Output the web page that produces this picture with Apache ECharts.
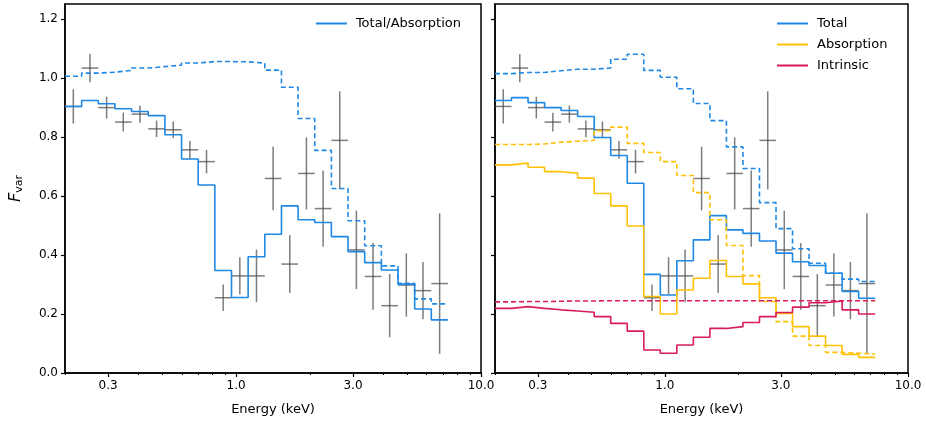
<!DOCTYPE html>
<html>
<head>
<meta charset="utf-8">
<script src="https://cdn.jsdelivr.net/npm/echarts@6/dist/echarts.min.js"></script>
<style>html,body{margin:0;padding:0;background:#fff}#c{width:926px;height:424px}</style>
</head>
<body>
<div id="c"></div>
<script>
// bins are log-uniform, 0.068 dex wide, starting at 0.2 keV (values in log10 E)
const binStart = Math.log10(0.2)
const binWidth = 0.068
const nBins = 23

const leftTotal = [0.903, 0.923, 0.912, 0.895, 0.886, 0.872, 0.807, 0.725, 0.637, 0.347, 0.256, 0.394, 0.470, 0.566, 0.519, 0.510, 0.462, 0.411, 0.374, 0.349, 0.301, 0.217, 0.180]
const leftTotalDash = [1.005, 1.016, 1.019, 1.025, 1.033, 1.038, 1.043, 1.050, 1.055, 1.055, 1.054, 1.050, 1.026, 0.968, 0.862, 0.754, 0.625, 0.516, 0.431, 0.363, 0.304, 0.251, 0.234]

const rightTotal = [0.923, 0.933, 0.916, 0.899, 0.889, 0.869, 0.798, 0.737, 0.643, 0.334, 0.264, 0.380, 0.451, 0.533, 0.485, 0.473, 0.447, 0.406, 0.377, 0.364, 0.338, 0.276, 0.253]
const rightTotalDash = [1.014, 1.018, 1.018, 1.024, 1.029, 1.029, 1.033, 1.063, 1.080, 1.025, 1.002, 0.963, 0.913, 0.855, 0.766, 0.693, 0.577, 0.489, 0.421, 0.372, 0.338, 0.318, 0.310]
const absorb = [0.705, 0.711, 0.697, 0.682, 0.677, 0.660, 0.608, 0.566, 0.498, 0.259, 0.200, 0.281, 0.321, 0.381, 0.327, 0.302, 0.255, 0.202, 0.157, 0.125, 0.093, 0.063, 0.053]
const absorbDash = [0.774, 0.774, 0.776, 0.782, 0.785, 0.788, 0.821, 0.833, 0.778, 0.747, 0.716, 0.669, 0.611, 0.519, 0.432, 0.330, 0.242, 0.174, 0.125, 0.093, 0.070, 0.067, 0.064]
const intrinsic = [0.219, 0.225, 0.219, 0.214, 0.210, 0.206, 0.191, 0.168, 0.142, 0.078, 0.067, 0.095, 0.121, 0.151, 0.157, 0.171, 0.191, 0.205, 0.223, 0.238, 0.244, 0.214, 0.200]
const intrinsicDash = [0.241, 0.242, 0.242, 0.243, 0.244, 0.244, 0.245, 0.245, 0.245, 0.245, 0.245, 0.245, 0.245, 0.245, 0.245, 0.245, 0.245, 0.245, 0.245, 0.245, 0.245, 0.245, 0.245]

const obsVal = [0.903, 1.033, 0.899, 0.850, 0.877, 0.827, 0.824, 0.756, 0.716, 0.255, 0.329, 0.329, 0.659, 0.369, 0.676, 0.557, 0.788, 0.417, 0.327, 0.228, 0.298, 0.279, 0.303]
const obsErr = [0.058, 0.048, 0.037, 0.032, 0.029, 0.028, 0.028, 0.030, 0.040, 0.045, 0.063, 0.089, 0.108, 0.098, 0.122, 0.129, 0.166, 0.133, 0.113, 0.107, 0.107, 0.097, 0.238]

const majorTicks = [0.3, 1.0, 3.0, 10.0]
const minorTicks = [0.2, 0.4, 0.5, 0.6, 0.7, 0.8, 0.9, 2, 4, 5, 6, 7, 8, 9]
const yTicks = [0, 0.2, 0.4, 0.6, 0.8, 1.0, 1.2]

const BLUE = '#1E88E5', YELLOW = '#FFC107', PINK = '#D81B60'
const font = 'DejaVu Sans'

function stepData(vals) {
  const d = vals.map((v, k) => [binStart + k * binWidth, v])
  d.push([binStart + nBins * binWidth, vals[vals.length - 1]])
  return d
}

function stepSeries(name, vals, color, dashed, idx) {
  return {
    name: name, type: 'line', step: 'end', data: stepData(vals),
    xAxisIndex: idx * 2, yAxisIndex: idx, symbol: 'none', silent: true,
    lineStyle: { color: color, width: 1.6, type: dashed ? [5, 3] : 'solid' },
    itemStyle: { color: color }
  }
}

function errSeries(idx) {
  const data = obsVal.map((v, k) => {
    const lo = binStart + k * binWidth
    return [lo + binWidth / 2, v, lo, lo + binWidth, v - obsErr[k], v + obsErr[k]]
  })
  return {
    type: 'custom', xAxisIndex: idx * 2, yAxisIndex: idx, data: data, silent: true, z: 1,
    renderItem: (params, api) => {
      const c = api.coord([api.value(0), api.value(1)])
      const l = api.coord([api.value(2), api.value(1)])
      const r = api.coord([api.value(3), api.value(1)])
      const b = api.coord([api.value(0), api.value(4)])
      const t = api.coord([api.value(0), api.value(5)])
      const st = { stroke: 'rgba(70,70,70,0.7)', lineWidth: 1.5 }
      return {
        type: 'group', children: [
          { type: 'line', shape: { x1: l[0], y1: c[1], x2: r[0], y2: c[1] }, style: st },
          { type: 'line', shape: { x1: c[0], y1: b[1], x2: c[0], y2: t[1] }, style: st }
        ]
      }
    }
  }
}

const grids = [
  { left: 65, top: 4, width: 416, height: 369, show: true, borderColor: '#000', borderWidth: 1.5 },
  { left: 495, top: 4, width: 413, height: 369, show: true, borderColor: '#000', borderWidth: 1.5 }
]

const xAxes = [], yAxes = []
for (let i = 0; i < 2; i++) {
  xAxes.push({
    type: 'value', gridIndex: i, min: binStart, max: 1, position: 'bottom',
    name: 'Energy (keV)', nameLocation: 'middle', nameGap: 30,
    nameTextStyle: { fontFamily: font, fontSize: 13, color: '#000' },
    splitLine: { show: false },
    axisLine: { onZero: false, lineStyle: { color: '#000', width: 1.5 } },
    axisTick: { length: 4, lineStyle: { color: '#000', width: 1.2 }, customValues: majorTicks.map(Math.log10) },
    axisLabel: { fontFamily: font, fontSize: 12, color: '#000', margin: 7,
      customValues: majorTicks.map(Math.log10),
      formatter: v => Math.pow(10, v).toFixed(1) }
  })
  xAxes.push({
    type: 'value', gridIndex: i, min: binStart, max: 1, position: 'bottom',
    splitLine: { show: false }, axisLine: { show: false, onZero: false },
    axisTick: { length: 2, lineStyle: { color: '#000', width: 1 }, customValues: minorTicks.map(Math.log10) },
    axisLabel: { show: false }
  })
  yAxes.push({
    type: 'value', gridIndex: i, min: 0, max: 1.25, position: 'left',
    name: i === 0 ? '{i|F}{s|var}' : '', nameLocation: 'middle', nameGap: 40, nameRotate: 90,
    nameTextStyle: { rich: {
      i: { fontFamily: font, fontSize: 16, fontStyle: 'italic', color: '#000' },
      s: { fontFamily: font, fontSize: 11, color: '#000', padding: [8, 0, 0, 0] }
    } },
    splitLine: { show: false },
    axisLine: { onZero: false, lineStyle: { color: '#000', width: 1.5 } },
    axisTick: { length: 4, lineStyle: { color: '#000', width: 1.2 }, customValues: yTicks },
    axisLabel: { show: i === 0, fontFamily: font, fontSize: 12, color: '#000', margin: 7,
      customValues: yTicks, formatter: v => v.toFixed(1) }
  })
}

const chart = echarts.init(document.getElementById('c'))
chart.setOption({
  animation: false,
  grid: grids,
  xAxis: xAxes,
  yAxis: yAxes,
  legend: [
    { data: ['Total/Absorption'], right: 926 - 466, top: 12, orient: 'vertical',
      icon: 'rect', itemWidth: 31, itemHeight: 2, itemGap: 10, selectedMode: false,
      textStyle: { fontFamily: font, fontSize: 13, color: '#000', padding: [0, 0, 0, 4] } },
    { data: ['Total', 'Absorption', 'Intrinsic'], left: 772, top: 12, orient: 'vertical',
      icon: 'rect', itemWidth: 31, itemHeight: 2, itemGap: 8, selectedMode: false,
      textStyle: { fontFamily: font, fontSize: 13, color: '#000', padding: [0, 0, 0, 4] } }
  ],
  series: [
    errSeries(0),
    stepSeries('Total/Absorption', leftTotal, BLUE, false, 0),
    stepSeries('left dashed', leftTotalDash, BLUE, true, 0),
    errSeries(1),
    stepSeries('Total', rightTotal, BLUE, false, 1),
    stepSeries('total dashed', rightTotalDash, BLUE, true, 1),
    stepSeries('Absorption', absorb, YELLOW, false, 1),
    stepSeries('absorption dashed', absorbDash, YELLOW, true, 1),
    stepSeries('Intrinsic', intrinsic, PINK, false, 1),
    stepSeries('intrinsic dashed', intrinsicDash, PINK, true, 1)
  ]
})
</script>
</body>
</html>
